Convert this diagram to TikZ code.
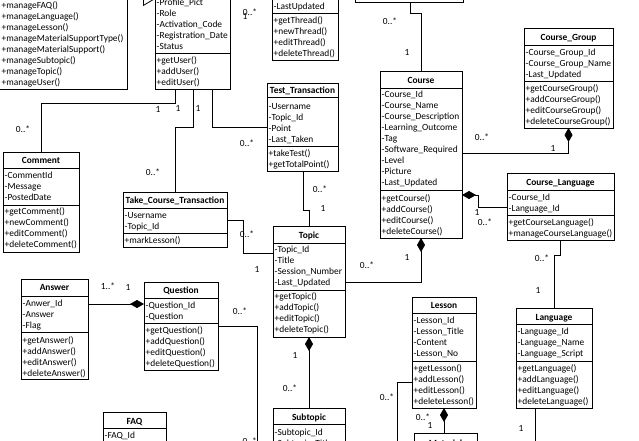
\documentclass[tikz,border=0pt]{standalone}
\usepackage{fontspec}
\setmainfont{Carlito}
\usetikzlibrary{arrows.meta}
\newcommand\umlbox[5]{\node[box, minimum width={(#4)-(#2)}, minimum height={(#5)-(#3)}] (#1) at (#2,#3) {};}
\newcommand\umlsep[2]{\draw[sepline] (#1.west |- 0,#2) -- (#1.east |- 0,#2);}
\newcommand\umllines[5]{\foreach \t [count=\i] in {#5} {\node[txt] (#1-\i) at (#2,{#3+(\i-1)*(#4)}) {\t};}}
\begin{document}
\begin{tikzpicture}[x=1pt,y=-1pt,
  box/.style={draw=black, line width=0.9pt, fill=white, inner sep=0pt, outer sep=0pt, anchor=north west},
  ttl/.style={font=\fontsize{9.4}{11.1}\selectfont\bfseries, inner sep=0pt, anchor=base},
  txt/.style={font=\fontsize{9.4}{11.1}\selectfont, inner sep=0pt, anchor=base west},
  lbl/.style={font=\fontsize{9.4}{11.1}\selectfont, inner sep=0pt},
  sepline/.style={line width=0.9pt},
  con/.style={line width=0.8pt},
  dia/.tip={Diamond[length=14pt,width=8pt]},
  gen/.tip={Triangle[open,length=12pt,width=14pt,fill=white]}
]
\useasboundingbox (0,0) rectangle (639,440);
\clip (0,0) rectangle (639,440);

% ---------- boxes ----------
\umlbox{admin}{-2}{-60}{127}{89}
\umllines{admin}{1.5}{8}{11}{+manageFAQ(),+manageLanguage(),+manageLesson(),+manageMaterialSupportType(),+manageMaterialSupport(),+manageSubtopic(),+manageTopic(),+manageUser()}

\umlbox{user}{155}{-60}{230}{89}
\umllines{usera}{156.5}{5}{11}{-Profile\_Pict,-Role,-Activation\_Code,-Registration\_Date,-Status}
\umlsep{user}{53}
\umllines{userm}{156.5}{63}{11}{+getUser(),+addUser(),+editUser()}

\umlbox{thread}{272}{-40}{338}{60}
\umllines{threada}{273.5}{9}{11}{-LastUpdated}
\umlsep{thread}{13}
\umllines{threadm}{273.5}{23}{11}{+getThread(),+newThread(),+editThread(),+deleteThread()}

\umlbox{cat}{355}{-40}{463}{2}

\umlbox{course}{380}{71}{462}{238}
\node[ttl] (course-t) at (421,83) {Course};
\umlsep{course}{88}
\umllines{coursea}{381.5}{97}{11.1}{-Course\_Id,-Course\_Name,-Course\_Description,-Learning\_Outcome,-Tag,-Software\_Required,-Level,-Picture,-Last\_Updated}
\umlsep{course}{190}
\umllines{coursem}{381.5}{201}{11.1}{+getCourse(),+addCourse(),+editCourse(),+deleteCourse()}

\umlbox{cg}{524}{28}{613}{128}
\node[ttl] (cg-t) at (568.5,40) {Course\_Group};
\umlsep{cg}{45}
\umllines{cga}{525.5}{55}{11.1}{-Course\_Group\_Id,-Course\_Group\_Name,-Last\_Updated}
\umlsep{cg}{81}
\umllines{cgm}{525.5}{91}{11.1}{+getCourseGroup(),+addCourseGroup(),+editCourseGroup(),+deleteCourseGroup()}

\umlbox{cl}{507}{173}{614}{240}
\node[ttl] (cl-t) at (560.5,185) {Course\_Language};
\umlsep{cl}{190}
\umllines{cla}{508.5}{200}{11.1}{-Course\_Id,-Language\_Id}
\umlsep{cl}{215}
\umllines{clm}{508.5}{225}{11.1}{+getCourseLanguage(),+manageCourseLanguage()}

\umlbox{language}{516}{308}{592}{408}
\node[ttl] (language-t) at (554,320) {Language};
\umlsep{language}{324}
\umllines{languagea}{517.5}{334}{11.1}{-Language\_Id,-Language\_Name,-Language\_Script}
\umlsep{language}{361}
\umllines{languagem}{517.5}{371}{11.1}{+getLanguage(),+addLanguage(),+editLanguage(),+deleteLanguage()}

\umlbox{lesson}{412}{297}{476}{408}
\node[ttl] (lesson-t) at (444,308) {Lesson};
\umlsep{lesson}{313}
\umllines{lessona}{413.5}{323}{11.1}{-Lesson\_Id,-Lesson\_Title,-Content,-Lesson\_No}
\umlsep{lesson}{361}
\umllines{lessonm}{413.5}{371}{11.1}{+getLesson(),+addLesson(),+editLesson(),+deleteLesson()}

\umlbox{ms}{414}{433}{477}{480}
\node[ttl] (ms-t) at (445.5,446) {Material};

\umlbox{topic}{273}{226}{345}{337}
\node[ttl] (topic-t) at (309,238) {Topic};
\umlsep{topic}{243}
\umllines{topica}{274.5}{252}{11.1}{-Topic\_Id,-Title,-Session\_Number,-Last\_Updated}
\umlsep{topic}{290}
\umllines{topicm}{274.5}{299}{11.1}{+getTopic(),+addTopic(),+editTopic(),+deleteTopic()}

\umlbox{subtopic}{273}{408}{345}{480}
\node[ttl] (subtopic-t) at (309,420) {Subtopic};
\umlsep{subtopic}{424}
\umllines{subtopica}{274.5}{435}{11.1}{-Subtopic\_Id,-Subtopic\_Title}

\umlbox{tt}{267}{83}{338}{171}
\node[ttl] (tt-t) at (302.5,93.5) {Test\_Transaction};
\umlsep{tt}{97}
\umllines{tta}{268.5}{109}{11}{-Username,-Topic\_Id,-Point,-Last\_Taken}
\umlsep{tt}{146}
\umllines{ttm}{268.5}{156}{11}{+takeTest(),+getTotalPoint()}

\umlbox{tct}{123}{192}{227}{247}
\node[ttl] (tct-t) at (175,203) {Take\_Course\_Transaction};
\umlsep{tct}{208}
\umllines{tcta}{124.5}{218}{11}{-Username,-Topic\_Id}
\umlsep{tct}{233}
\umllines{tctm}{124.5}{243}{11}{+markLesson()}

\umlbox{comment}{3}{152}{79}{252}
\node[ttl] (comment-t) at (41,163) {Comment};
\umlsep{comment}{168}
\umllines{commenta}{4.5}{178}{11}{-CommentId,-Message,-PostedDate}
\umlsep{comment}{205}
\umllines{commentm}{4.5}{214}{11}{+getComment(),+newComment(),+editComment(),+deleteComment()}

\umlbox{question}{144}{282}{218}{370}
\node[ttl] (question-t) at (181,293.5) {Question};
\umlsep{question}{298}
\umllines{questiona}{145.5}{308}{11}{-Question\_Id,-Question}
\umlsep{question}{323}
\umllines{questionm}{145.5}{333}{11}{+getQuestion(),+addQuestion(),+editQuestion(),+deleteQuestion()}

\umlbox{answer}{21}{279}{88}{379}
\node[ttl] (answer-t) at (54.5,290) {Answer};
\umlsep{answer}{296}
\umllines{answera}{22.5}{306}{11}{-Anwer\_Id,-Answer,-Flag}
\umlsep{answer}{332}
\umllines{answerm}{22.5}{343}{11}{+getAnswer(),+addAnswer(),+editAnswer(),+deleteAnswer()}

\umlbox{faq}{103}{412}{166}{480}
\node[ttl] (faq-t) at (134.5,424) {FAQ};
\umlsep{faq}{428}
\umllines{faqa}{104.5}{438}{11}{-FAQ\_Id}

% ---------- free ends ----------
\coordinate (langdown) at (535,450);
\coordinate (lessondown) at (397,450);
\coordinate (qdown) at (257,450);

% ---------- connectors ----------
\draw[con,-gen] (admin.east |- 0,-1) -- (user.west |- 0,-1);
\draw[con] (user.east |- 0,-1) -- (thread.west |- 0,-1);
\draw[con] (comment.north) |- (175,103) -- (user.south -| 175,0);
\draw[con] (tct.north) |- (193,127) -- (user.south -| 193,0);
\draw[con] (user.south -| 212,0) |- (tt.west |- 0,127);
\draw[con] (tt.south -| 303,0) -- (303,210) -- (309,210) -- (topic.north);
\draw[con] (tct.east |- 0,220) -| (243,253) -- (topic.west |- 0,253);
\draw[con,dia-] (course.south) |- (topic.east |- 0,282);
\draw[con] (course.north) |- (410,13) -- (cat.south -| 410,0);
\draw[con,-dia] (course.east |- 0,153) -| (cg.south);
\draw[con,dia-] (course.east |- 0,195) -- (478,195) |- (cl.west |- 0,207);
\draw[con] (cl.south -| 560,0) |- (554,255) -- (language.north);
\draw[con] (language.south -| langdown) -- (langdown);
\draw[con,dia-] (lesson.south) -- (ms.north -| lesson.south);
\draw[con] (lesson.west |- 0,382) -| (lessondown);
\draw[con,dia-] (topic.south) -- (subtopic.north);
\draw[con] (question.east |- 0,326) -| (qdown);
\draw[con,-dia] (answer.east |- 0,304) -- (question.west |- 0,304);

% ---------- multiplicities ----------
\node[lbl] (m1) at (250,12) {0..*};
\node[lbl] (m2) at (245,16) {1};
\node[lbl] (m3) at (158,109) {1};
\node[lbl] (m4) at (178,108) {1};
\node[lbl] (m5) at (198,108) {1};
\node[lbl] (m6) at (23,129) {0..*};
\node[lbl] (m7) at (153,172) {0..*};
\node[lbl] (m8) at (247,143) {0..*};
\node[lbl] (m9) at (390,21) {0..*};
\node[lbl] (m10) at (407,52) {1};
\node[lbl] (m11) at (482,137) {0..*};
\node[lbl] (m12) at (553,148) {1};
\node[lbl] (m13) at (320,189) {0..*};
\node[lbl] (m14) at (323,208) {1};
\node[lbl] (m15) at (247,234) {0..*};
\node[lbl] (m16) at (257,269) {1};
\node[lbl] (m17) at (407,257) {1};
\node[lbl] (m18) at (367,265) {0..*};
\node[lbl] (m19) at (477,212) {1};
\node[lbl] (m20) at (485,222) {0..*};
\node[lbl] (m21) at (542,258) {0..*};
\node[lbl] (m22) at (538,290) {1};
\node[lbl] (m23) at (521,428) {1};
\node[lbl] (m24) at (423,417) {0..*};
\node[lbl] (m25) at (430,425) {1};
\node[lbl] (m26) at (387,397) {0..*};
\node[lbl] (m27) at (295,355) {1};
\node[lbl] (m28) at (290,388) {0..*};
\node[lbl] (m29) at (240,311) {0..*};
\node[lbl,anchor=base east] (m30) at (257,444) {0..*};
\node[lbl] (m31) at (108,286) {1..*};
\node[lbl] (m32) at (128,287) {1};
\end{tikzpicture}
\end{document}
